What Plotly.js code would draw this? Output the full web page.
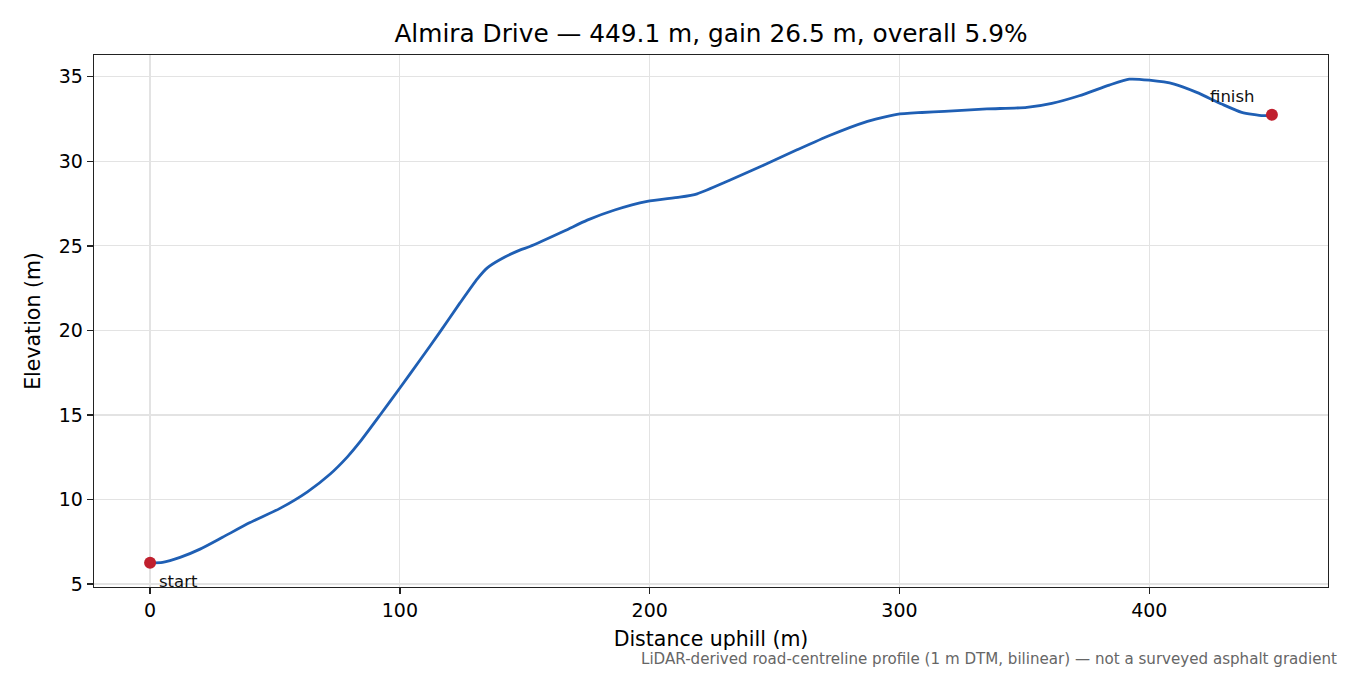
<!DOCTYPE html>
<html>
<head>
<meta charset="utf-8">
<script src="https://cdn.plot.ly/plotly-3.0.1.min.js"></script>
<style>html,body{margin:0;padding:0;background:#fff;}#chart{width:1350px;height:675px;}</style>
</head>
<body>
<div id="chart"></div>
<script>
const distance = [0, 5, 12, 20, 29, 40, 52, 63, 72, 79, 84, 92, 100, 108, 116, 124, 131, 135, 140, 148,
  152, 166, 175, 186, 199, 212, 219, 232, 246, 259, 272, 286, 299, 309, 318, 335, 351, 361, 372, 384,
  392, 400, 410, 419, 429, 437, 445.6, 449.1];
const elevation = [6.25, 6.28, 6.57, 7.06, 7.76, 8.63, 9.47, 10.45, 11.49, 12.52, 13.40, 14.98, 16.59, 18.23, 19.90, 21.61, 23.05, 23.70, 24.18, 24.75,
  24.96, 25.89, 26.52, 27.12, 27.63, 27.88, 28.08, 28.88, 29.80, 30.68, 31.53, 32.31, 32.78, 32.89, 32.96, 33.10, 33.19, 33.43, 33.88, 34.51,
  34.86, 34.80, 34.57, 34.08, 33.39, 32.90, 32.70, 32.75];
const endpointLabels = ["start", "finish"];
const titleText = "Almira Drive — 449.1 m, gain 26.5 m, overall 5.9%";
const xTitle = "Distance uphill (m)";
const yTitle = "Elevation (m)";
const footnote = "LiDAR-derived road-centreline profile (1 m DTM, bilinear) — not a surveyed asphalt gradient";
const xTicks = [0, 100, 200, 300, 400];
const yTicks = [5, 10, 15, 20, 25, 30, 35];

const n = distance.length;
const endX = [distance[0], distance[n - 1]];
const endY = [elevation[0], elevation[n - 1]];

function padRange(arr) {
  const lo = Math.min(...arr), hi = Math.max(...arr), p = (hi - lo) * 0.05;
  return [lo - p, hi + p];
}

const font = "DejaVu Sans, sans-serif";

const traces = [
  {x: distance, y: elevation, type: "scatter", mode: "lines",
   line: {color: "#1f5fb4", width: 2.8, shape: "spline", smoothing: 0.6}, hoverinfo: "skip"},
  {x: endX, y: endY, type: "scatter", mode: "markers",
   marker: {color: "#c0202e", size: 12}, hoverinfo: "skip"}
];

const axisCommon = {
  showline: true, mirror: true, linecolor: "#222", linewidth: 1.3,
  ticks: "outside", ticklen: 6, tickwidth: 1.3, tickcolor: "#222",
  showgrid: true, gridcolor: "#e3e3e3", gridwidth: 1.2, zeroline: false,
  tickfont: {family: font, size: 19, color: "#000"}
};

const layout = {
  width: 1350, height: 675,
  paper_bgcolor: "#fff", plot_bgcolor: "#fff",
  showlegend: false,
  margin: {l: 94, r: 22, t: 55, b: 88},
  title: {text: titleText, xref: "paper", x: 0.5, xanchor: "center", y: 0.951, yanchor: "middle",
          font: {family: font, size: 24.8, color: "#000"}},
  xaxis: Object.assign({}, axisCommon, {
    range: padRange(distance), tickvals: xTicks, ticktext: xTicks.map(String),
    title: {text: xTitle, font: {family: font, size: 20.5, color: "#000"}, standoff: 11}
  }),
  yaxis: Object.assign({}, axisCommon, {
    range: padRange(elevation), tickvals: yTicks, ticktext: yTicks.map(String),
    title: {text: yTitle, font: {family: font, size: 20.5, color: "#000"}, standoff: 12}
  }),
  annotations: [
    {x: endX[0], y: endY[0], xref: "x", yref: "y", text: endpointLabels[0], showarrow: false,
     xanchor: "left", yanchor: "middle", xshift: 7, yshift: -19,
     font: {family: font, size: 16.5, color: "#111"}},
    {x: endX[1], y: endY[1], xref: "x", yref: "y", text: endpointLabels[1], showarrow: false,
     xanchor: "right", yanchor: "middle", xshift: -15, yshift: 18,
     font: {family: font, size: 16.5, color: "#111"}},
    {x: 1, y: 0, xref: "paper", yref: "paper", text: footnote, showarrow: false,
     xanchor: "right", yanchor: "middle", xshift: 11, yshift: -72,
     font: {family: font, size: 15.1, color: "#666"}}
  ]
};

Plotly.newPlot("chart", traces, layout, {displayModeBar: false, staticPlot: true});
</script>
</body>
</html>
